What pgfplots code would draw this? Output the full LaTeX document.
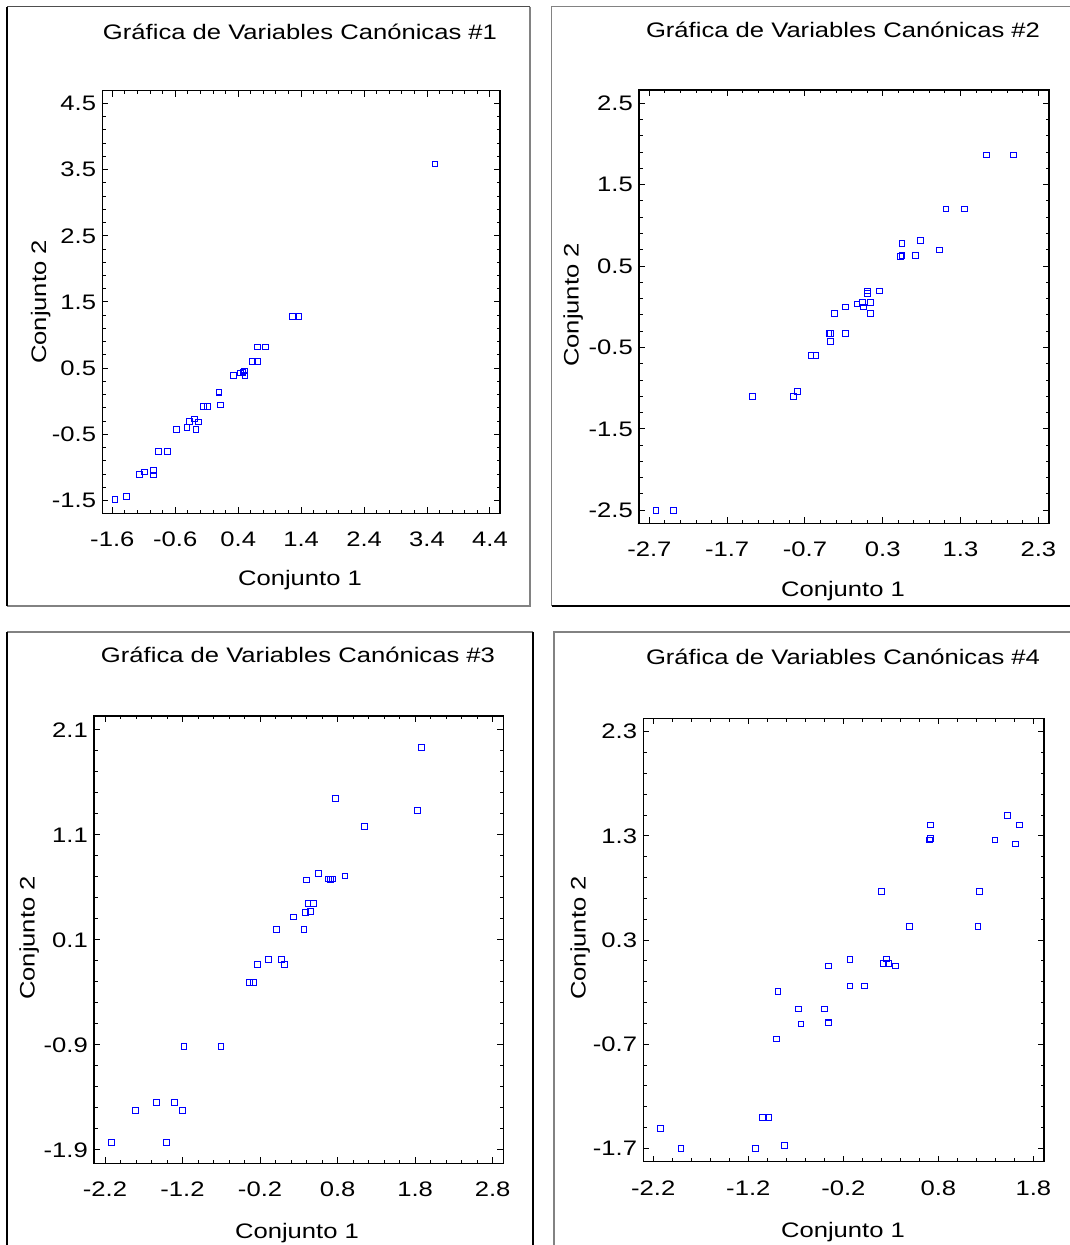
\documentclass[border=0pt]{standalone}
\usepackage{pgfplots}
\pgfplotsset{compat=1.18}
\usepackage{fontspec}
\setmainfont[FakeStretch=1.22]{Liberation Sans}

\definecolor{markblue}{RGB}{0,0,255}
\definecolor{framegray}{RGB}{130,130,130}

\newcommand{\lblfont}{\fontsize{21}{25}\selectfont}

\pgfplotsset{
  canon/.style={
    scale only axis,
    anchor=south west,
    axis line style={line width=1.2pt, black},
    every tick/.style={line width=1pt, black},
    major tick length=6pt,
    minor tick length=3.5pt,
    minor x tick num=4,
    minor y tick num=4,
    tick align=inside,
    ticklabel style={font=\lblfont},
    xticklabel style={anchor=base, yshift=-33.4pt},
    yticklabel style={anchor=east, inner sep=0pt, xshift=-6pt},
    clip=false,
  },
  pts/.style={only marks, mark=square, mark size=2.8pt,
    mark options={line width=1.1pt, draw=markblue, fill=none}},
}

% Canonical variable scores, one table per pair
\pgfplotstableread{
x y
3.527 3.584
1.260 1.284
1.366 1.284
0.709 0.821
0.836 0.821
0.625 0.600
0.709 0.600
0.323 0.388
0.434 0.429
0.497 0.459
0.508 0.388
0.476 0.440
0.095 0.137
0.116 -0.055
-0.154 -0.080
-0.085 -0.080
-0.578 -0.427
-0.414 -0.392
-0.377 -0.306
-0.292 -0.266
-0.229 -0.311
-0.271 -0.427
-0.864 -0.759
-0.721 -0.759
-1.171 -1.106
-1.086 -1.066
-0.943 -1.046
-0.943 -1.111
-1.558 -1.479
-1.372 -1.439
}\canonA

\pgfplotstableread{
x y
1.636 1.865
1.979 1.865
1.113 1.202
1.349 1.202
0.548 0.780
0.788 0.813
1.027 0.698
0.719 0.633
0.548 0.633
0.531 0.616
0.261 0.195
0.106 0.195
0.106 0.162
0.145 0.051
0.038 0.051
-0.031 0.035
0.055 -0.002
0.145 -0.080
-0.181 -0.002
-0.318 -0.080
-0.391 -0.326
-0.369 -0.326
-0.369 -0.424
-0.181 -0.326
-0.622 -0.600
-0.558 -0.600
-1.372 -1.104
-0.849 -1.104
-0.793 -1.038
-2.614 -2.500
-2.392 -2.500
}\canonB

\pgfplotstableread{
x y
1.880 1.932
0.775 1.449
1.828 1.332
1.145 1.179
0.551 0.735
0.895 0.710
0.685 0.681
0.736 0.681
0.711 0.675
0.401 0.671
0.418 0.449
0.487 0.449
0.448 0.370
0.384 0.360
0.229 0.319
0.010 0.202
0.367 0.202
-0.093 -0.084
0.079 -0.084
-0.231 -0.135
0.113 -0.135
-0.338 -0.303
-0.283 -0.303
-1.181 -0.916
-0.704 -0.916
-1.538 -1.449
-1.301 -1.449
-1.809 -1.525
-1.198 -1.525
-2.118 -1.827
-1.405 -1.827
}\canonC

\pgfplotstableread{
x y
1.530 1.494
1.656 1.404
0.716 1.404
0.705 1.260
0.719 1.273
1.396 1.260
1.614 1.222
0.200 0.767
1.232 0.767
0.498 0.428
1.218 0.428
-0.130 0.114
0.256 0.118
0.225 0.076
0.277 0.076
0.347 0.050
-0.358 0.050
-0.130 -0.142
0.021 -0.142
-0.888 -0.196
-0.670 -0.362
-0.400 -0.362
-0.646 -0.506
-0.358 -0.494
-0.905 -0.650
-1.053 -1.402
-0.982 -1.402
-2.126 -1.508
-1.909 -1.700
-1.123 -1.700
-0.821 -1.674
}\canonD

\begin{document}
\begin{tikzpicture}[x=1pt,y=1pt]

% panel frames
\begin{scope}
  \clip (0,0) rectangle (1070,1245);
  \begin{scope}[line width=1.3pt]
    % panel 1
    \draw[framegray] (7,639) -- (530,639) -- (530,1238.3);
    \draw[framegray!60!black] (530,1238.3) -- (7,1238.3);
    \draw[black] (7,1238.3) -- (7,639);
    % panel 2
    \draw[framegray] (1080,1238.3) -- (551.7,1238.3) -- (551.7,639);
    \draw[black] (551.7,639) -- (1080,639);
    % panel 3
    \draw[framegray] (533,613) -- (7,613);
    \draw[black] (7,613) -- (7,-10);
    \draw[black] (533,613) -- (533,-10);
    % panel 4
    \draw[framegray] (1080,613) -- (554,613) -- (554,-10);
  \end{scope}
\end{scope}

% panel 1
\begin{axis}[canon,
  at={(102.3pt,731.7pt)}, width=397.7pt, height=422.6pt,
  xmin=-1.759, xmax=4.559, ymin=-1.691, ymax=4.691,
  xtick={-1.6,-0.6,0.4,1.4,2.4,3.4,4.4},
  xticklabels={-1.6,-0.6,0.4,1.4,2.4,3.4,4.4},
  ytick={-1.5,-0.5,0.5,1.5,2.5,3.5,4.5},
  yticklabels={-1.5,-0.5,0.5,1.5,2.5,3.5,4.5}]
  \addplot[pts] table[x=x,y=y] {\canonA};
\end{axis}

% panel 2
\begin{axis}[canon,
  at={(639pt,721.7pt)}, width=410pt, height=433.3pt,
  xmin=-2.833, xmax=2.437, ymin=-2.660, ymax=2.664,
  xtick={-2.7,-1.7,-0.7,0.3,1.3,2.3},
  xticklabels={-2.7,-1.7,-0.7,0.3,1.3,2.3},
  ytick={-2.5,-1.5,-0.5,0.5,1.5,2.5},
  yticklabels={-2.5,-1.5,-0.5,0.5,1.5,2.5}]
  \addplot[pts] table[x=x,y=y] {\canonB};
\end{axis}

% panel 3
\begin{axis}[canon,
  at={(94pt,81.7pt)}, width=409.3pt, height=447.3pt,
  xmin=-2.342, xmax=2.938, ymin=-2.027, ymax=2.233,
  xtick={-2.2,-1.2,-0.2,0.8,1.8,2.8},
  xticklabels={-2.2,-1.2,-0.2,0.8,1.8,2.8},
  ytick={-1.9,-0.9,0.1,1.1,2.1},
  yticklabels={-1.9,-0.9,0.1,1.1,2.1}]
  \addplot[pts] table[x=x,y=y] {\canonC};
\end{axis}

% panel 4
\begin{axis}[canon,
  at={(643.3pt,83.3pt)}, width=400.7pt, height=443.3pt,
  xmin=-2.305, xmax=1.912, ymin=-1.828, ymax=2.428,
  xtick={-2.2,-1.2,-0.2,0.8,1.8},
  xticklabels={-2.2,-1.2,-0.2,0.8,1.8},
  ytick={-1.7,-0.7,0.3,1.3,2.3},
  yticklabels={-1.7,-0.7,0.3,1.3,2.3}]
  \addplot[pts] table[x=x,y=y] {\canonD};
\end{axis}

% titles and axis labels
\begin{scope}[every node/.style={font=\lblfont, inner sep=0pt}]
  \node[anchor=base] at (300,1205.7) {Gráfica de Variables Canónicas \#1};
  \node[anchor=base] at (843,1207.7) {Gráfica de Variables Canónicas \#2};
  \node[anchor=base] at (298,582.7) {Gráfica de Variables Canónicas \#3};
  \node[anchor=base] at (843,580.7) {Gráfica de Variables Canónicas \#4};

  \node[anchor=base] at (300,659) {Conjunto 1};
  \node[anchor=base] at (843,648) {Conjunto 1};
  \node[anchor=base] at (297,6) {Conjunto 1};
  \node[anchor=base] at (843,8) {Conjunto 1};

  \node[anchor=base, rotate=90] at (46,943) {Conjunto 2};
  \node[anchor=base, rotate=90] at (578.5,940) {Conjunto 2};
  \node[anchor=base, rotate=90] at (34.5,307) {Conjunto 2};
  \node[anchor=base, rotate=90] at (585.5,307) {Conjunto 2};
\end{scope}

\pgfresetboundingbox
\useasboundingbox (0,0) rectangle (1070,1245);
\end{tikzpicture}
\end{document}
